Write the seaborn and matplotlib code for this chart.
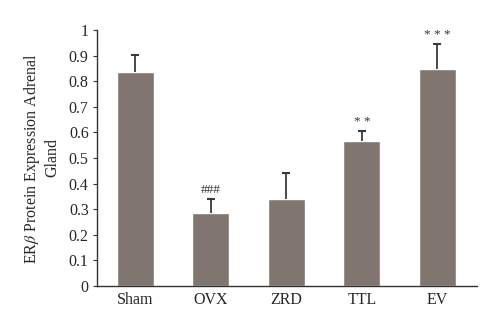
import numpy as np
import matplotlib
matplotlib.use("Agg")
import matplotlib.pyplot as plt
import seaborn as sns
from matplotlib.ticker import FuncFormatter, MultipleLocator

groups = ["Sham", "OVX", "ZRD", "TTL", "EV"]
means = [0.835, 0.284, 0.340, 0.568, 0.848]
errors = [0.067, 0.057, 0.103, 0.036, 0.096]
marks = ["", "###", "", "**", "***"]

sns.set_style("white")
plt.rcParams["font.family"] = ["Liberation Serif", "DejaVu Serif"]
plt.rcParams["mathtext.fontset"] = "stix"

fig = plt.figure(figsize=(5.0, 3.27), dpi=100)
ax = fig.add_axes([0.194, 0.1254, 0.759, 0.7829])

sns.barplot(x=groups, y=means, color="#81766f", saturation=1, width=0.49, ax=ax, errorbar=None)
pos = np.arange(len(groups))
tops = np.array(means) + np.array(errors)
ax.vlines(pos, means, tops, colors="#3a3a3a", linewidth=1.3)
ax.plot(pos, tops, linestyle="none", marker="_", markersize=6, markeredgewidth=1.5, color="#3a3a3a")
for x, t, lab in zip(pos, tops, marks):
    if lab:
        ax.text(x, t + 0.012, " ".join(lab) if lab.startswith("*") else lab,
                ha="center", va="bottom", fontsize=9.5, color="#333333")

ax.set_ylim(0, 1)
ax.set_xlim(-0.51, 4.52)
ax.yaxis.set_major_locator(MultipleLocator(0.1))
ax.yaxis.set_major_formatter(FuncFormatter(lambda v, p: f"{round(v, 1):g}"))
sns.despine(ax=ax)
for s in ("left", "bottom"):
    ax.spines[s].set_color("#333333")
    ax.spines[s].set_linewidth(1.0)
ax.tick_params(axis="y", direction="out", length=3, width=0.8, color="#333333",
               labelsize=11.5, pad=3, left=True)
ax.tick_params(axis="x", length=0, labelsize=11.5, pad=4)
ax.set_xlabel("")
ax.set_ylabel(r"ER$\mathit{\beta}$ Protein Expression Adrenal" "\nGland",
              fontsize=11.5, labelpad=6, linespacing=1.2)

fig.savefig("out.png", dpi=100, facecolor="white")
